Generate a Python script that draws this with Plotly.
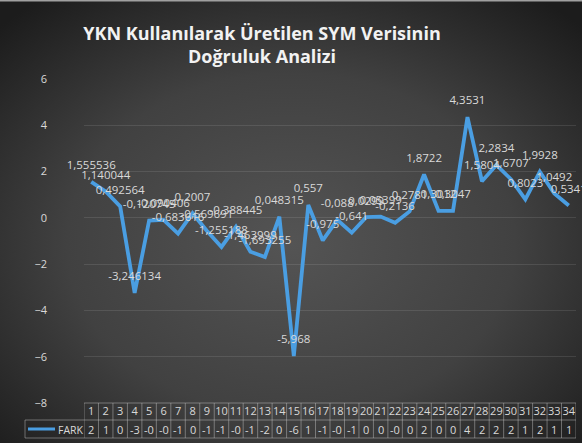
import base64
import plotly.graph_objects as go

# Accuracy analysis of the DEM produced with YKN: difference (FARK) per checkpoint
points = list(range(1, 35))
fark = [1.555536, 1.140044, 0.492564, -3.246134, -0.120745, -0.090406, -0.683616,
        0.2007, -0.569691, -1.255188, -0.388445, -1.463999, -1.693255, 0.048315,
        -5.968, 0.557, -0.975, -0.088, -0.641, 0.0299, 0.05399, -0.2136, 0.2781,
        1.8722, 0.3012, 0.3047, 4.3531, 1.5804, 2.2834, 1.6707, 0.8023, 1.9928,
        1.0492, 0.5341]
series_name = "FARK"
title_text = "YKN Kullanılarak Üretilen SYM Verisinin<br>Doğruluk Analizi"
y_ticks = [6, 4, 2, 0, -2, -4, -6, -8]

W, H = 582, 443
ML, MR, MT, MB = 84, 6, 79, 40
PW, PH = W - ML - MR, H - MT - MB

LINE = "#4a9ee2"
TXT = "#d9d9d9"
GRID = "rgba(255,255,255,0.10)"
TABLE = "rgba(200,200,200,0.45)"
FONT = "Open Sans, Liberation Sans, sans-serif"


def label(v):
    return repr(v).replace(".", ",")


def rounded(v):
    return f"{v:.0f}"


def py(px):
    """pixel row -> paper y"""
    return (H - MB - px) / PH


def pxx(px):
    """pixel column -> paper x"""
    return (px - ML) / PW


# dark radial backdrop
svg = f"""<svg xmlns='http://www.w3.org/2000/svg' width='{W}' height='{H}' viewBox='0 0 {W} {H}' preserveAspectRatio='none'>
<defs><radialGradient id='g' cx='50%' cy='55%' r='70%'>
<stop offset='0%' stop-color='#545454'/><stop offset='55%' stop-color='#414141'/>
<stop offset='100%' stop-color='#1c1c1c'/></radialGradient></defs>
<rect width='{W}' height='{H}' fill='url(#g)'/></svg>"""
bg_src = "data:image/svg+xml;base64," + base64.b64encode(svg.encode()).decode()

fig = go.Figure()
fig.add_trace(go.Scatter(
    x=points, y=fark, mode="lines+markers+text", name=series_name,
    line=dict(color=LINE, width=3.8),
    # transparent markers only push the value labels a little above each point
    marker=dict(size=14, color="rgba(0,0,0,0)"),
    text=[label(v) for v in fark], textposition="top center",
    textfont=dict(family=FONT, size=11.5, color=TXT),
    cliponaxis=False, showlegend=False, hoverinfo="x+y",
))

shapes = []
# data-table grid below the plot
y_top, y_mid, y_bot = py(403), py(420), py(438)
x_leg = pxx(25)
shapes.append(dict(type="line", xref="paper", yref="paper", x0=0, x1=1, y0=y_top, y1=y_top,
                   line=dict(color=TABLE, width=1)))
for yy in (y_mid, y_bot):
    shapes.append(dict(type="line", xref="paper", yref="paper", x0=x_leg, x1=1, y0=yy, y1=yy,
                       line=dict(color=TABLE, width=1)))
shapes.append(dict(type="line", xref="paper", yref="paper", x0=x_leg, x1=x_leg, y0=y_mid, y1=y_bot,
                   line=dict(color=TABLE, width=1)))
for k in range(len(points) + 1):
    xv = points[0] - 0.5 + k
    shapes.append(dict(type="line", xref="x", yref="paper", x0=xv, x1=xv, y0=y_top, y1=y_bot,
                       line=dict(color=TABLE, width=1)))
# legend key
shapes.append(dict(type="line", xref="paper", yref="paper", x0=pxx(28), x1=pxx(55),
                   y0=py(429), y1=py(429), line=dict(color=LINE, width=3)))
# top edge
shapes.append(dict(type="line", xref="paper", yref="paper", x0=pxx(0), x1=pxx(W),
                   y0=py(0.5), y1=py(0.5), line=dict(color="#a0a0a0", width=2)))

annotations = []
for p, v in zip(points, fark):
    annotations.append(dict(x=p, y=py(429.5), xref="x", yref="paper", text=rounded(v),
                            showarrow=False, xanchor="center", yanchor="middle",
                            font=dict(family=FONT, size=11, color=TXT)))
annotations.append(dict(x=pxx(56), y=py(429.5), xref="paper", yref="paper", text=series_name,
                        showarrow=False, xanchor="left", yanchor="middle",
                        font=dict(family=FONT, size=10.5, color=TXT)))

fig.update_layout(
    width=W, height=H,
    margin=dict(l=ML, r=MR, t=MT, b=MB, pad=0),
    paper_bgcolor="#333333", plot_bgcolor="rgba(0,0,0,0)",
    images=[dict(source=bg_src, xref="paper", yref="paper", x=-ML / PW, y=1 + MT / PH,
                 sizex=W / PW, sizey=H / PH, sizing="stretch", layer="below",
                 xanchor="left", yanchor="top")],
    title=dict(text=title_text, x=262 / W, xref="container", xanchor="center",
               y=1 - 40 / H, yref="container", yanchor="middle",
               font=dict(family="Open Sans, sans-serif", size=18, color="#f2f2f2",
                         weight="bold")),
    xaxis=dict(range=[0.5, 34.5], tickvals=points, ticktext=[str(p) for p in points],
               tickangle=0, showgrid=False, zeroline=False, showline=False, ticks="",
               tickfont=dict(family=FONT, size=11, color=TXT),
               ticklabelstandoff=0, fixedrange=True),
    yaxis=dict(range=[-8, 6], tickvals=y_ticks, showgrid=True, gridcolor=GRID, gridwidth=1,
               zeroline=False, showline=False, ticks="",
               tickfont=dict(family=FONT, size=11, color=TXT),
               ticklabelstandoff=36),
    shapes=shapes, annotations=annotations,
)

fig.write_html("out.html")
